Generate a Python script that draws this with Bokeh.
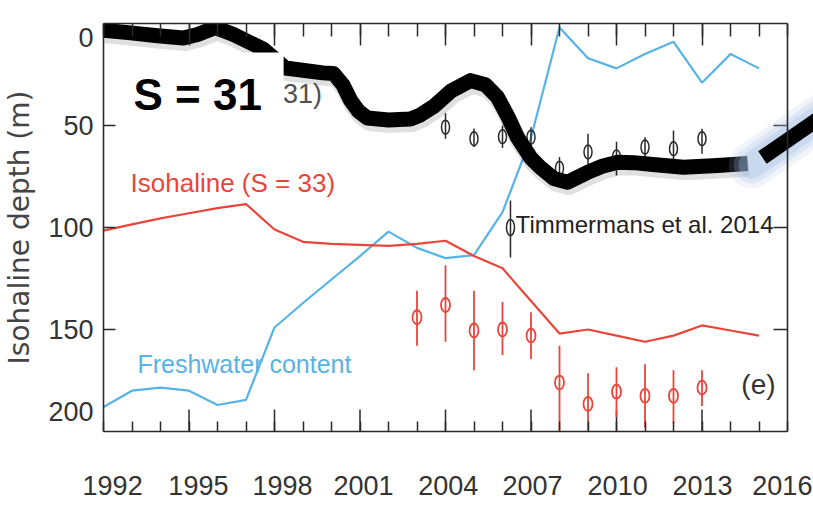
from bokeh.plotting import figure
from bokeh.models import Range1d, LinearAxis, FixedTicker, Span
from bokeh.core.properties import value
from bokeh.transform import dodge
from bokeh.embed import file_html
from bokeh.resources import INLINE

# ---------------- data ----------------
years = list(range(1992, 2016))
isohaline_33 = [101.5, 98.5, 95.5, 93, 90.5, 88.5, 101, 107, 108, 108.5, 109, 108,
                106.5, 114, 120, 136, 152, 150, 153, 156, 153, 148, 150.5, 153]
freshwater = [188, 180, 178.5, 180, 187, 184.5, 149, 137, 125.5, 114, 102, 110,
              115, 113.5, 92.5, 56, 2, 17, 22, 15, 9, 29, 15, 22]

obs33_years = [2003, 2004, 2005, 2006, 2007, 2008, 2009, 2010, 2011, 2012, 2013]
obs33 = [144, 138, 150.5, 150, 153, 176, 186.5, 180.5, 182.5, 182.5, 178.5]
obs33_lo = [131, 118.5, 131, 136.5, 141.5, 158, 171.5, 168.5, 167, 170, 170]
obs33_hi = [158, 156, 170, 162.5, 164.5, 200, 202, 193, 198, 196, 187.5]

obs31_years = [2004, 2005, 2006, 2007, 2008, 2009, 2010, 2011, 2012, 2013]
obs31 = [50.8, 56.5, 55.5, 55.7, 71, 63, 65.5, 60.6, 61.4, 56.5]
obs31_lo = [44, 51.5, 50, 50.8, 65.5, 54, 58, 55.7, 52.5, 51.6]
obs31_hi = [56.5, 60.6, 61, 60.6, 74.5, 70.4, 74.5, 66.3, 67, 63.9]

# hand-drawn S = 31 curve (overlay)
sketch_x = [1992.0, 1992.95, 1993.9, 1994.8, 1995.3, 1995.93, 1996.56, 1997.16, 1997.6,
            1998.38, 1999.7, 2000.07, 2000.4, 2000.67, 2000.95, 2001.26, 2002.0, 2002.77,
            2003.1, 2003.6, 2004.2, 2004.88, 2005.4, 2005.82, 2006.2, 2006.53, 2007.0,
            2007.33, 2007.8, 2008.28, 2008.98, 2009.5, 2010.04, 2010.6, 2011.19, 2012.35,
            2013.54, 2014.6]
sketch_y = [3.3, 4.6, 6.0, 7.1, 5.4, 2.0, 5.4, 9.5, 12.5,
            21.8, 24.2, 24.5, 30, 37.7, 43, 46.3, 47.3, 46.8,
            45, 40.5, 33, 28, 30, 36, 46, 56, 66,
            70.6, 76, 77.8, 73, 70, 68, 68.2, 69, 70.5,
            69.6, 68.6]
stroke_x = [2015.12, 2018.2]
stroke_y = [65.7, 36.0]
glow_x = [2014.75, 2018.2]
glow_y = [69.5, 36.0]

x_major = [1995, 1998, 2001, 2004, 2007, 2010, 2013]
x_minor = list(range(1992, 2017))
x_label_pos = [1992.32, 1995.33, 1998.28, 2001.12, 2004.1, 2007.05, 2010.04, 2013.02, 2015.82]
x_label_txt = ["1992", "1995", "1998", "2001", "2004", "2007", "2010", "2013", "2016"]
y_label_pos = [7, 50, 100, 150, 190]
y_label_txt = ["0", "50", "100", "150", "200"]
y_ticks = [50, 100, 150]

RED = "#e8463a"
BLUE = "#57b3e6"
INK = "#2a2a2a"
FONT = "Liberation Sans"

W, H = 813, 512
LEFT, TOP, BOTTOM = 103, 23, 81
X0, X1, Y0, Y1 = 1992, 2016, 200, 0
PX_Y = (H - TOP - BOTTOM) / (Y0 - Y1)
PX_X = 684 / (X1 - X0)                    # the printed axis box is 684 px wide
X_VIEW = X0 + (W - LEFT) / PX_X           # drawing area runs on to the page edge

# ---------------- figure ----------------
p = figure(width=W, height=H, x_range=Range1d(X0, X_VIEW), y_range=Range1d(Y0, Y1),
           output_backend="svg", toolbar_location=None,
           min_border_left=LEFT, min_border_right=0, min_border_top=TOP, min_border_bottom=BOTTOM)
p.grid.visible = False
p.outline_line_color = None

# bottom axis: labels at their printed spots, yearly small ticks
xa = p.xaxis[0]
xa.bounds = (X0, X1)
xa.ticker = FixedTicker(ticks=x_label_pos, minor_ticks=x_minor)
xa.major_label_overrides = dict(zip(x_label_pos, x_label_txt))
xa.major_tick_in = 0
xa.major_tick_out = 0
xa.minor_tick_in = 10
xa.minor_tick_out = 0
xa.major_label_standoff = 44
xa.major_label_text_font = FONT
xa.major_label_text_font_size = "27px"
xa.major_label_text_color = "#333333"

# left axis
ya = p.yaxis[0]
ya.ticker = FixedTicker(ticks=y_label_pos, minor_ticks=y_ticks)
ya.major_label_overrides = dict(zip(y_label_pos, y_label_txt))
ya.major_tick_in = 0
ya.major_tick_out = 0
ya.minor_tick_in = 12
ya.minor_tick_out = 0
ya.major_label_standoff = 10
ya.major_label_text_font = FONT
ya.major_label_text_font_size = "27px"
ya.major_label_text_color = "#333333"
ya.axis_label = "Isohaline depth (m)"
ya.axis_label_text_font = "DejaVu Sans"
ya.axis_label_text_font_size = "28px"
ya.axis_label_text_font_style = "normal"
ya.axis_label_text_color = "#444444"
ya.axis_label_standoff = 9

top = LinearAxis(ticker=FixedTicker(ticks=x_major, minor_ticks=x_minor), bounds=(X0, X1))
top.major_tick_in = 22
top.major_tick_out = 0
top.minor_tick_in = 13
top.minor_tick_out = 0
top.major_label_text_font_size = "0px"
top.major_label_text_color = None
top.major_label_standoff = 0
p.add_layout(top, "above")

for ax in (xa, ya, top):
    ax.axis_line_color = INK
    ax.axis_line_width = 1.6
    ax.major_tick_line_color = INK
    ax.major_tick_line_width = 1.5
    ax.minor_tick_line_color = INK
    ax.minor_tick_line_width = 1.5

# right edge of the printed box and its ticks
p.add_layout(Span(location=X1, dimension="height", line_color=INK, line_width=1.6))
p.segment(x0=[X1 - 14 / PX_X] * len(y_ticks), y0=y_ticks, x1=[X1] * len(y_ticks), y1=y_ticks,
          line_color=INK, line_width=1.5)
# long bottom ticks every third year
p.segment(x0=x_major, y0=[Y0] * len(x_major), x1=x_major, y1=[Y0 - 22 / PX_Y] * len(x_major),
          line_color=INK, line_width=1.5)

# ---------------- series ----------------
p.line(years, freshwater, line_color=BLUE, line_width=2.2)
p.line(years, isohaline_33, line_color=RED, line_width=2.2)

p.segment(x0=obs33_years, y0=obs33_lo, x1=obs33_years, y1=obs33_hi, line_color=RED, line_width=1.8)
p.ellipse(x=obs33_years, y=obs33, width=9, height=14, width_units="screen", height_units="screen",
          fill_color=None, line_color=RED, line_width=1.8)

p.segment(x0=obs31_years, y0=obs31_lo, x1=obs31_years, y1=obs31_hi, line_color=INK, line_width=1.5)
p.ellipse(x=obs31_years, y=obs31, width=8, height=14, width_units="screen", height_units="screen",
          fill_color=None, line_color=INK, line_width=1.5)

# legend entry for Timmermans et al. 2014
leg_x, leg_y, leg_lo, leg_hi = 2006.28, 100, 86.8, 114.7
p.segment(x0=[leg_x], y0=[leg_lo], x1=[leg_x], y1=[leg_hi], line_color=INK, line_width=1.5)
p.ellipse(x=[leg_x], y=[leg_y], width=8, height=16, width_units="screen", height_units="screen",
          fill_color=None, line_color=INK, line_width=1.5)
p.text(x=[2006.46], y=[98.5], text=["Timmermans et al. 2014"], text_font=value(FONT),
       text_font_size="24px", text_color="#222222", text_align="left", text_baseline="middle")

# in-plot labels
p.text(x=[1992.95], y=[78], text=["Isohaline (S = 33)"], text_font=value(FONT),
       text_font_size="26px", text_color=RED, text_align="left", text_baseline="middle")
p.text(x=[1993.19], y=[167], text=["Freshwater content"], text_font=value(FONT),
       text_font_size="25px", text_color=BLUE, text_align="left", text_baseline="middle")
p.text(x=[2014.98], y=[177], text=["(e)"], text_font=value(FONT),
       text_font_size="28px", text_color="#333333", text_align="center", text_baseline="middle")
p.text(x=[1998.3], y=[34.5], text=["31)"], text_font=value(FONT),
       text_font_size="27px", text_color="#505050", text_align="left", text_baseline="middle")

# hand-drawn overlay
p.line(x=dodge("x", 0.06), y=dodge("y", 2.2), source=dict(x=sketch_x, y=sketch_y),
       line_color="black", line_alpha=0.12, line_width=17, line_join="round")
p.line(sketch_x, sketch_y, line_color="black", line_width=15, line_join="round", line_cap="butt")

# white box with the "S = 31" callout
p.quad(left=[1992.3], right=[1998.32], top=[14.2], bottom=[47.5], fill_color="white", line_color=None)
p.text(x=[1993.05], y=[35], text=["S = 31"], text_font=value(FONT),
       text_font_style="bold", text_font_size="44px", text_color="black",
       text_align="left", text_baseline="middle")

# glowing stroke running off the right edge
for w, a in ((46, 0.16), (36, 0.22), (27, 0.32)):
    p.line(glow_x, glow_y, line_color="#9fbde3", line_alpha=a, line_width=w, line_cap="round")
p.line(stroke_x, stroke_y, line_color="black", line_width=15, line_cap="butt")

open("out.html", "w").write(file_html(p, INLINE))
